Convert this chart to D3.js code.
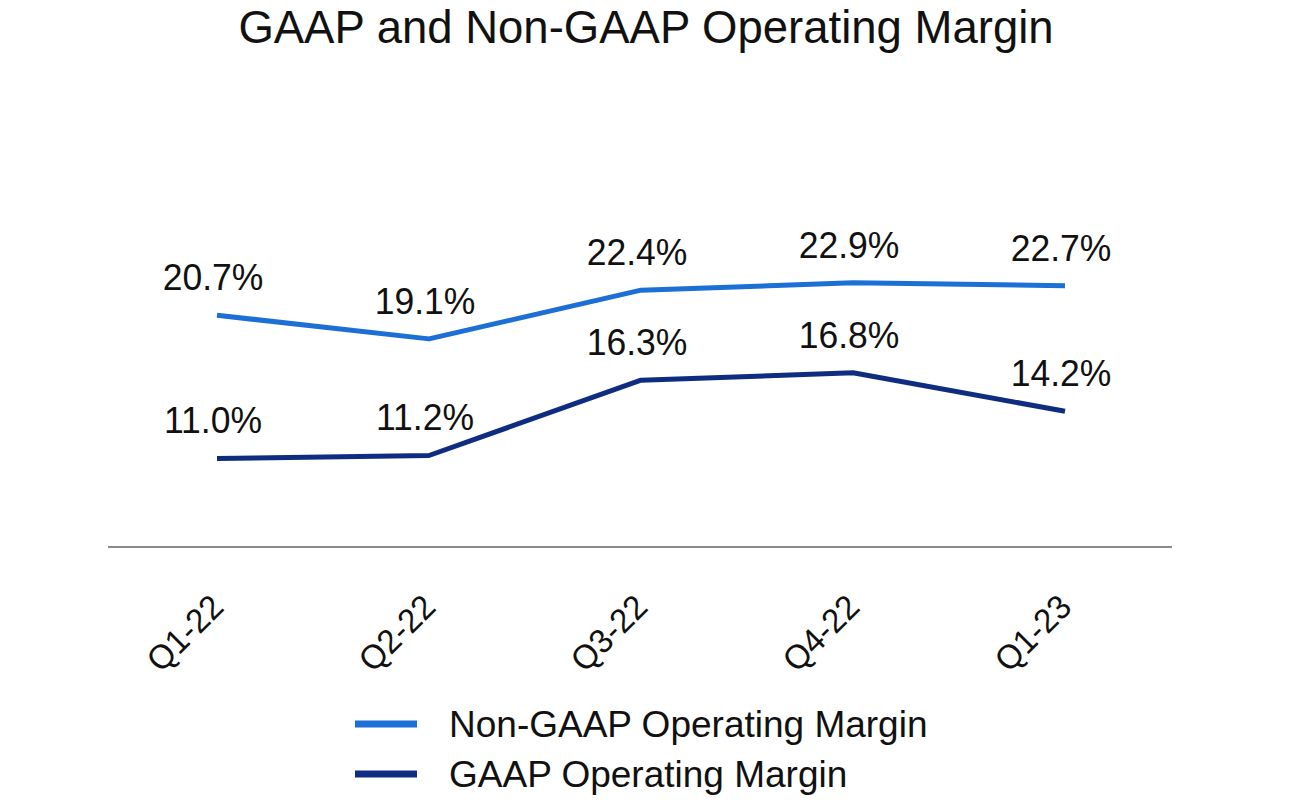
<!DOCTYPE html>
<html>
<head>
<meta charset="utf-8">
<script src="https://cdn.jsdelivr.net/npm/d3@7"></script>
<style>
  body { margin: 0; background: #fff; }
  svg text { font-family: "Liberation Sans", Arial, sans-serif; fill: #111; }
</style>
</head>
<body>
<svg id="chart" width="1292" height="804"></svg>
<script>
const quarters = ['Q1-22', 'Q2-22', 'Q3-22', 'Q4-22', 'Q1-23'];
const nonGaap = [20.7, 19.1, 22.4, 22.9, 22.7];
const gaap = [11.0, 11.2, 16.3, 16.8, 14.2];
const seriesNames = ['Non-GAAP Operating Margin', 'GAAP Operating Margin'];
const seriesColors = ['#1b6fd5', '#0f2d80'];

const svg = d3.select('#chart');
const width = 1292;
const margin = { left: 108, right: 120 };

const x = d3.scalePoint()
    .domain(quarters)
    .range([217, 1065]);

const y = d3.scaleLinear()
    .domain([5, 30])
    .range([547, 178]);

// squeeze text horizontally a bit, the source font is narrower than Arial
function squeeze(sel, k) {
    sel.each(function () {
        const w = this.getComputedTextLength();
        d3.select(this).attr('textLength', w * k).attr('lengthAdjust', 'spacingAndGlyphs');
    });
}

// title
svg.append('text')
    .attr('x', width / 2)
    .attr('y', 43)
    .attr('text-anchor', 'middle')
    .attr('font-size', '45.5px')
    .text('GAAP and Non-GAAP Operating Margin');

// baseline
svg.append('line')
    .attr('x1', margin.left)
    .attr('x2', width - margin.right)
    .attr('y1', y(5))
    .attr('y2', y(5))
    .attr('stroke', '#8a8a8a')
    .attr('stroke-width', 2);

// x axis labels
const xAxis = svg.append('g')
    .attr('transform', `translate(0,${y(5)})`)
    .call(d3.axisBottom(x).tickSize(0).tickPadding(0));
xAxis.select('.domain').remove();
xAxis.selectAll('text')
    .attr('font-size', '34px')
    .attr('fill', '#111')
    .attr('text-anchor', 'end')
    .attr('dy', 0)
    .attr('transform', 'translate(8,62) rotate(-45)')
    .call(squeeze, 0.97);

const line = d3.line()
    .x((d, i) => x(quarters[i]))
    .y(d => y(d));

[nonGaap, gaap].forEach((vals, s) => {
    svg.append('path')
        .datum(vals)
        .attr('d', line)
        .attr('fill', 'none')
        .attr('stroke', seriesColors[s])
        .attr('stroke-width', 5)
        .attr('stroke-linejoin', 'round');

    svg.append('g')
        .selectAll('text')
        .data(vals)
        .enter().append('text')
        .attr('x', (d, i) => x(quarters[i]) - 4)
        .attr('y', d => y(d) - 25)
        .attr('text-anchor', 'middle')
        .attr('font-size', '37px')
        .text(d => d.toFixed(1) + '%')
        .call(squeeze, 0.96);
});

// legend
const legend = svg.append('g')
    .selectAll('g')
    .data(seriesNames)
    .enter().append('g')
    .attr('transform', (d, i) => `translate(355,${724 + i * 50})`);

legend.append('line')
    .attr('x1', 0)
    .attr('x2', 62)
    .attr('stroke', (d, i) => seriesColors[i])
    .attr('stroke-width', 7);

legend.append('text')
    .attr('x', 94)
    .attr('y', 13)
    .attr('font-size', '37px')
    .text(d => d);
</script>
</body>
</html>
